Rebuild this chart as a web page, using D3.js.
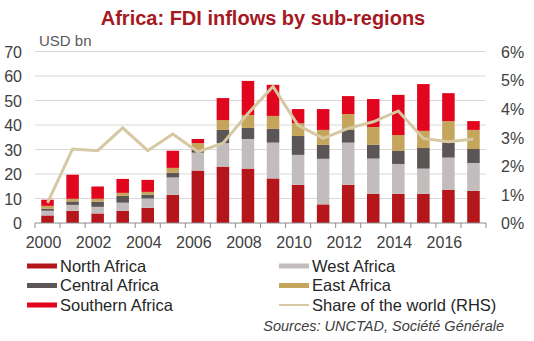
<!DOCTYPE html>
<html>
<head>
<meta charset="utf-8">
<script src="https://cdn.jsdelivr.net/npm/d3@7"></script>
<style>
  body { margin: 0; background: #fff; }
  svg text { font-family: "Liberation Sans", Arial, sans-serif; }
</style>
</head>
<body>
<div id="chart"></div>
<script>

var years = d3.range(2000, 2018);

// values (USD bn per region, share in %)
var northAfrica    = [3.1, 5.0, 3.9, 5.0, 6.2, 11.5, 21.4, 23.0, 22.2, 18.2, 15.6, 7.6, 15.6, 11.9, 11.9, 11.9, 13.6, 13.1];
var westAfrica     = [1.9, 2.4, 2.7, 3.3, 3.8, 7.1, 7.3, 9.6, 12.1, 14.6, 12.2, 18.6, 17.2, 14.4, 12.2, 10.3, 13.1, 11.4];
var centralAfrica  = [0.8, 1.4, 2.1, 2.8, 1.6, 1.9, 1.1, 5.4, 4.5, 5.6, 7.7, 5.7, 5.2, 5.6, 5.3, 8.4, 6.1, 5.7];
var eastAfrica     = [1.2, 1.1, 1.2, 1.2, 1.1, 2.0, 2.8, 4.0, 5.3, 5.3, 5.2, 6.1, 6.5, 7.3, 6.5, 7.0, 8.8, 7.8];
var southernAfrica = [2.5, 9.8, 5.0, 5.7, 4.9, 7.0, 1.7, 9.0, 13.9, 12.7, 5.8, 8.5, 7.3, 11.4, 16.4, 19.1, 11.4, 3.6];
var worldShare     = [0.70, 2.59, 2.53, 3.33, 2.53, 3.11, 2.49, 2.79, 3.83, 4.78, 3.42, 2.96, 3.31, 3.54, 3.92, 2.96, 2.84, 2.94];

var regions = ["North Africa", "West Africa", "Central Africa", "East Africa", "Southern Africa"];
var regionColors = ["#b5161c", "#c2bcbc", "#5c5556", "#c5a45c", "#e1061d"];
var lineColor = "#d6c8a2";

var leftTicks = [0, 10, 20, 30, 40, 50, 60, 70];
var rightTicks = [0, 1, 2, 3, 4, 5, 6];

var width = 534, height = 341;
var margin = { left: 35, right: 48, top: 51.5, bottom: 118 };

var svg = d3.select("#chart").append("svg")
    .attr("width", width)
    .attr("height", height);

var table = years.map(function(y, i) {
    return {
        year: y,
        "North Africa": northAfrica[i],
        "West Africa": westAfrica[i],
        "Central Africa": centralAfrica[i],
        "East Africa": eastAfrica[i],
        "Southern Africa": southernAfrica[i],
        share: worldShare[i]
    };
});

var x = d3.scaleBand()
    .domain(years)
    .range([margin.left, width - margin.right])
    .paddingInner(0.5)
    .paddingOuter(0.25);

var yL = d3.scaleLinear().domain([0, 70]).range([height - margin.bottom, margin.top]);
var yR = d3.scaleLinear().domain([0, 6]).range([height - margin.bottom, margin.top]);

// title
svg.append("text")
    .attr("x", 263).attr("y", 25)
    .attr("text-anchor", "middle")
    .style("font-size", "20px").style("font-weight", "bold")
    .style("fill", "#a5191f")
    .text("Africa: FDI inflows by sub-regions");

svg.append("text")
    .attr("x", 39).attr("y", 46)
    .style("font-size", "15px").style("fill", "#595959")
    .text("USD bn");

// grid
svg.append("g").selectAll("line")
    .data(leftTicks.slice(1)).enter()
    .append("line")
    .attr("x1", margin.left).attr("x2", width - margin.right)
    .attr("y1", function(d) { return yL(d); })
    .attr("y2", function(d) { return yL(d); })
    .style("stroke", "#d9d9d9").style("stroke-width", 1);

// left axis
var leftAxis = svg.append("g")
    .attr("transform", "translate(22,0)")
    .call(d3.axisLeft(yL).tickValues(leftTicks).tickSize(0).tickPadding(0));
leftAxis.select(".domain").remove();
leftAxis.selectAll("text").style("font-size", "16px").style("fill", "#404040").attr("dy", "0.36em");

// right axis
var rightAxis = svg.append("g")
    .attr("transform", "translate(501,0)")
    .call(d3.axisRight(yR).tickValues(rightTicks).tickSize(0).tickPadding(0)
        .tickFormat(function(d) { return d + "%"; }));
rightAxis.select(".domain").remove();
rightAxis.selectAll("text").style("font-size", "16px").style("fill", "#404040").attr("dy", "0.36em");

// stacked bars
var stack = d3.stack().keys(regions)(table);

svg.append("g").selectAll("g")
    .data(stack).enter()
    .append("g")
    .style("fill", function(d, i) { return regionColors[i]; })
    .selectAll("rect")
    .data(function(d) { return d; }).enter()
    .append("rect")
    .attr("x", function(d) { return x(d.data.year); })
    .attr("width", x.bandwidth())
    .attr("y", function(d) { return yL(d[1]); })
    .attr("height", function(d) { return yL(d[0]) - yL(d[1]); });

// x axis
var step = x.step();
var xAxisG = svg.append("g")
    .attr("transform", "translate(0," + yL(0) + ")");
xAxisG.append("line")
    .attr("x1", margin.left).attr("x2", width - margin.right)
    .style("stroke", "#8c8c8c");
xAxisG.selectAll(".tick")
    .data(d3.range(years.length + 1)).enter()
    .append("line")
    .attr("x1", function(i) { return margin.left + i * step; })
    .attr("x2", function(i) { return margin.left + i * step; })
    .attr("y1", 0).attr("y2", 5)
    .style("stroke", "#8c8c8c");
xAxisG.selectAll(".lbl")
    .data(years.filter(function(y) { return y % 2 === 0; })).enter()
    .append("text")
    .attr("x", function(d) { return x(d) + x.bandwidth() / 2 - 4; })
    .attr("y", 25)
    .attr("text-anchor", "middle")
    .style("font-size", "16px").style("fill", "#404040")
    .text(function(d) { return d; });

// share line
var line = d3.line()
    .x(function(d) { return x(d.year) + x.bandwidth() / 2; })
    .y(function(d) { return yR(d.share); });

svg.append("path")
    .datum(table)
    .attr("d", line)
    .style("fill", "none")
    .style("stroke", lineColor)
    .style("stroke-width", 3);

// legend
var legendItems = [
    { name: "North Africa", color: regionColors[0], col: 0, row: 0 },
    { name: "West Africa", color: regionColors[1], col: 1, row: 0 },
    { name: "Central Africa", color: regionColors[2], col: 0, row: 1 },
    { name: "East Africa", color: regionColors[3], col: 1, row: 1 },
    { name: "Southern Africa", color: regionColors[4], col: 0, row: 2 },
    { name: "Share of the world (RHS)", color: lineColor, col: 1, row: 2, isLine: true }
];
var legend = svg.append("g");
var lg = legend.selectAll("g")
    .data(legendItems).enter()
    .append("g")
    .attr("transform", function(d) {
        return "translate(" + (d.col === 0 ? 27 : 279) + "," + (266 + d.row * 19.5) + ")";
    });
lg.append("rect")
    .attr("x", 0)
    .attr("y", function(d) { return d.isLine ? -1 : -2.5; })
    .attr("width", 30)
    .attr("height", function(d) { return d.isLine ? 2 : 5; })
    .style("fill", function(d) { return d.color; });
lg.append("text")
    .attr("x", 33)
    .attr("dy", "0.35em")
    .style("font-size", "16.5px").style("fill", "#262626")
    .text(function(d) { return d.name; });

svg.append("text")
    .attr("x", 504).attr("y", 331)
    .attr("text-anchor", "end")
    .style("font-size", "14.5px").style("font-style", "italic").style("fill", "#404040")
    .text("Sources: UNCTAD, Société Générale");

</script>
</body>
</html>
